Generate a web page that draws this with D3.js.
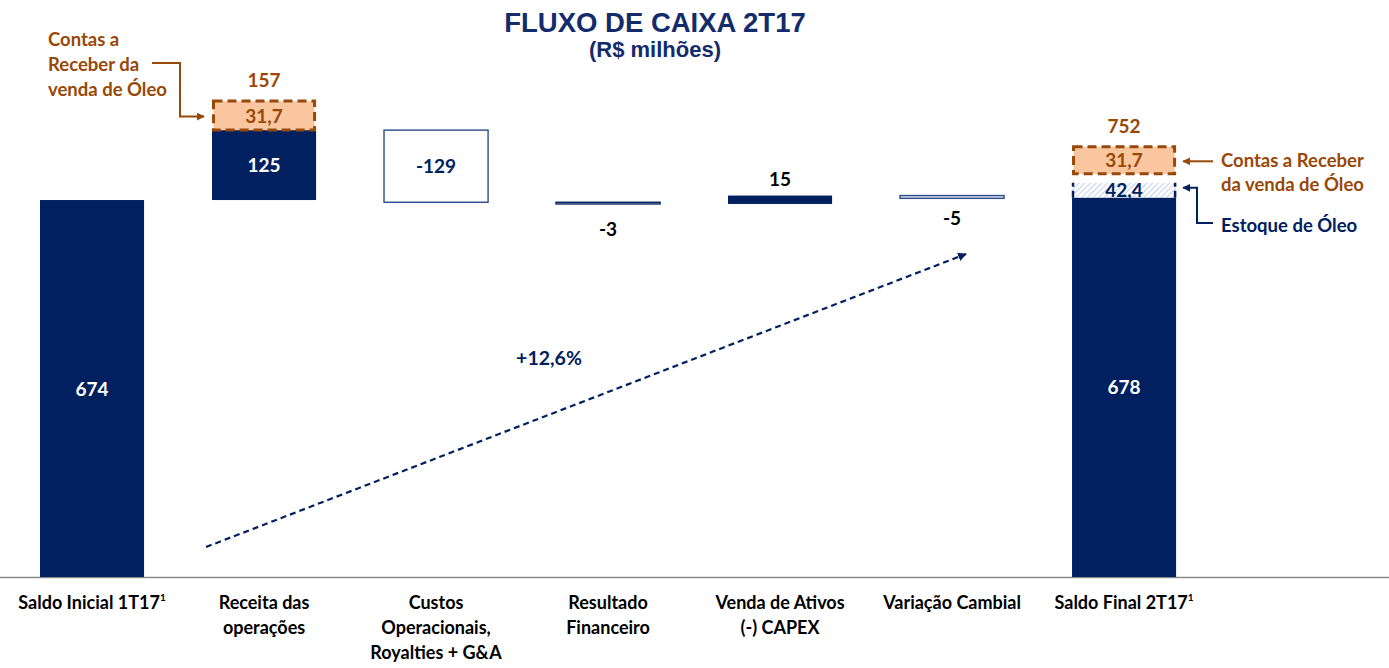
<!DOCTYPE html>
<html>
<head>
<meta charset="utf-8">
<script src="https://cdn.jsdelivr.net/npm/d3@7"></script>
<style>
  body { margin: 0; background: #fff; }
  svg { display: block; }
  .lbl { font-family: Lato, "Open Sans", sans-serif; font-weight: 700; }
  .title { font-family: "Liberation Sans", Arial, sans-serif; font-weight: 700; fill: #142b6b; }
</style>
</head>
<body>
<svg id="chart" width="1389" height="668"></svg>
<script>
// chart values (R$ milhões)
let categories = ["Saldo Inicial 1T17", "Receita das operações", "Custos Operacionais, Royalties + G&A",
                  "Resultado Financeiro", "Venda de Ativos (-) CAPEX", "Variação Cambial", "Saldo Final 2T17"];
let label_lines = [["Saldo Inicial 1T17"], ["Receita das", "operações"], ["Custos", "Operacionais,", "Royalties + G&A"],
                   ["Resultado", "Financeiro"], ["Venda de Ativos", "(-) CAPEX"], ["Variação Cambial"], ["Saldo Final 2T17"]];
let footnote = [true, false, false, false, false, false, true];
let values = [674, 125, -129, -3, 15, -5, 678];
let kinds = ["total", "delta", "delta", "delta", "delta", "delta", "total"];
let value_labels = ["674", "125", "-129", "-3", "15", "-5", "678"];
let receivables = [{cat: 1, value: 31.7, label: "31,7", total: "157"},
                   {cat: 6, value: 31.7, label: "31,7", total: "752"}];
let inventory = [{cat: 6, value: 42.4, label: "42,4"}];
let growth = "+12,6%";

let width = 1389, height = 668,
    navy = "#002060", brown = "#984807", peach = "#f9c6a0",
    baseline = 577;

function make_steps() {
  let run = 0;
  return values.map((v, i) => {
    let s;
    if (kinds[i] == "total") { s = {lo: 0, hi: v}; run = v; }
    else { let a = run, b = run + v; s = {lo: Math.min(a, b), hi: Math.max(a, b)}; run = b; }
    return Object.assign(s, {i: i, v: v});
  });
}

function make_scales() {
  return {
    x: d3.scaleBand().domain(d3.range(categories.length))
         .range([5.6, 1210.5]).paddingInner(0.395).paddingOuter(0.2),
    y: d3.scaleLinear().domain([0, 800]).range([baseline, baseline - 800 * 0.5593])
  };
}

function defs(svg) {
  let d = svg.append("defs");
  [["arr-navy", navy], ["arr-brown", brown]].forEach(([id, c]) => {
    d.append("marker").attrs({id: id, viewBox: "0 0 10 10", refX: 9, refY: 5,
        markerWidth: 4, markerHeight: 4, orient: "auto-start-reverse", markerUnits: "strokeWidth"})
      .append("path").attrs({d: "M0,0 L10,5 L0,10 z", fill: c});
  });
  d.append("pattern").attrs({id: "hatch", width: 4, height: 4, patternUnits: "userSpaceOnUse",
      patternTransform: "rotate(45)"})
    .append("line").attrs({x1: 0, y1: 0, x2: 0, y2: 4, stroke: "#a9bde0", "stroke-width": 1.4});
}

function bars(svg, steps, scales) {
  let x = scales.x, y = scales.y, bw = x.bandwidth();
  svg.append("g").selectAll("rect").data(steps).enter().append("rect")
    .attrs({
      x: d => x(d.i),
      y: d => y(d.hi),
      width: bw,
      height: d => Math.max(1.5, y(d.lo) - y(d.hi)),
      fill: d => d.v < 0 ? (d.i == 5 ? "#dfe6f2" : "#fff") : navy,
      stroke: d => d.v < 0 ? (d.i == 3 ? navy : "#2c4a8c") : "none",
      "stroke-width": 1.4
    });

  svg.append("g").selectAll("text").data(steps).enter().append("text")
    .attr("class", "lbl")
    .attrs({
      x: d => x(d.i) + bw / 2,
      y: d => {
        let h = y(d.lo) - y(d.hi);
        if (h > 40) return (y(d.lo) + y(d.hi)) / 2 + 7;
        if (d.v > 0) return y(d.hi) - 10;
        return y(d.lo) + (d.i == 3 ? 32 : 27);
      },
      "text-anchor": "middle",
      "font-size": 19,
      fill: d => {
        let h = y(d.lo) - y(d.hi);
        if (h > 40) return d.v < 0 ? navy : "#fff";
        return "#000";
      }
    })
    .text(d => value_labels[d.i]);
}

function extras(svg, steps, scales) {
  let x = scales.x, y = scales.y, bw = x.bandwidth();
  // inventory (hatched) block on top of final bar
  let inv_h = 15, gap = 9;
  let tops = {};
  inventory.forEach(d => {
    let top = y(steps[d.cat].hi), x0 = x(d.cat);
    svg.append("rect").attrs({x: x0, y: top - inv_h, width: bw, height: inv_h, fill: "url(#hatch)"});
    svg.append("path").attrs({d: `M${x0 + 1},${top} V${top - inv_h} M${x0 + bw - 1},${top} V${top - inv_h}`,
      stroke: navy, "stroke-width": 2.5, "stroke-dasharray": "7,4", fill: "none"});
    svg.append("text").attr("class", "lbl").attrs({x: x0 + bw / 2, y: top - 1,
      "text-anchor": "middle", "font-size": 19, fill: navy}).text(d.label);
    tops[d.cat] = top - inv_h - gap;
  });
  receivables.forEach(d => {
    let base = tops[d.cat] != null ? tops[d.cat] : y(steps[d.cat].hi);
    let h = d.cat == 1 ? 29 : 27;
    svg.append("rect").attrs({x: x(d.cat) + 1.5, y: base - h, width: bw - 3, height: h,
      fill: peach, stroke: brown, "stroke-width": 3, "stroke-dasharray": "9,5"});
    svg.append("text").attr("class", "lbl").attrs({x: x(d.cat) + bw / 2, y: base - h / 2 + 7,
      "text-anchor": "middle", "font-size": 19, fill: brown}).text(d.label);
    svg.append("text").attr("class", "lbl").attrs({x: x(d.cat) + bw / 2, y: base - h - 14,
      "text-anchor": "middle", "font-size": 19, fill: brown}).text(d.total);
    d.mid = base - h / 2;
  });

  // left annotation
  let la = svg.append("text").attr("class", "lbl").attrs({x: 48, "font-size": 18.5, fill: brown});
  ["Contas a", "Receber da", "venda de Óleo"].forEach((t, k) =>
    la.append("tspan").attrs({x: 48, y: 46 + 25 * k}).text(t));
  let r0 = receivables[0];
  svg.append("path").attrs({d: `M152,63 H180 V${r0.mid + 1} H${x(r0.cat) - 8}`, fill: "none",
    stroke: brown, "stroke-width": 2, "marker-end": "url(#arr-brown)"});

  // right annotations
  let r1 = receivables[1], xr = x(r1.cat) + bw;
  svg.append("path").attrs({d: `M1213,${r1.mid + 1} H${xr + 7}`, fill: "none",
    stroke: brown, "stroke-width": 2, "marker-end": "url(#arr-brown)"});
  let ra = svg.append("text").attr("class", "lbl").attrs({"font-size": 18.5, fill: brown});
  ["Contas a Receber", "da venda de Óleo"].forEach((t, k) =>
    ra.append("tspan").attrs({x: 1221, y: 167 + 24 * k}).text(t));
  let inv_mid = y(steps[6].hi) - 10;
  svg.append("path").attrs({d: `M1213,223 H1197 V${inv_mid} H${xr + 7}`, fill: "none",
    stroke: navy, "stroke-width": 2, "marker-end": "url(#arr-navy)"});
  svg.append("text").attr("class", "lbl").attrs({x: 1221, y: 232, "font-size": 18.5, fill: navy})
    .text("Estoque de Óleo");

  // growth arrow
  svg.append("line").attrs({x1: 206, y1: 547, x2: 966, y2: 254, stroke: navy,
    "stroke-width": 2.2, "stroke-dasharray": "6,4", "marker-end": "url(#arr-navy)"});
  svg.append("text").attr("class", "lbl").attrs({x: 549, y: 365, "text-anchor": "middle",
    "font-size": 19.5, fill: navy}).text(growth);
}

function axis(svg, scales) {
  let x = scales.x, bw = x.bandwidth();
  svg.append("line").attrs({x1: 0, x2: width, y1: baseline + 0.5, y2: baseline + 0.5,
    stroke: "#8c8c8c", "stroke-width": 1.3});
  let g = svg.append("g").selectAll("text").data(label_lines).enter().append("text")
    .attr("class", "lbl")
    .attrs({"text-anchor": "middle", "font-size": 18, fill: "#000"});
  g.each(function(lines, i) {
    let t = d3.select(this), cx = x(i) + bw / 2;
    lines.forEach((l, k) => {
      t.append("tspan").attrs({x: cx, y: 609 + 25 * k}).text(l);
    });
    if (footnote[i]) t.append("tspan").attrs({"font-size": 10, dy: -8}).text("1");
  });
}

function title(svg) {
  svg.append("text").attr("class", "title").attrs({x: 655, y: 32, "text-anchor": "middle", "font-size": 27.5})
    .text("FLUXO DE CAIXA 2T17");
  svg.append("text").attr("class", "title").attrs({x: 655, y: 57, "text-anchor": "middle", "font-size": 22})
    .text("(R$ milhões)");
}

// small helper since d3-selection-multi isn't bundled
d3.selection.prototype.attrs = function(o) {
  for (let k in o) this.attr(k, o[k]);
  return this;
};

let svg = d3.select("#chart");
let scales = make_scales(), steps = make_steps();
defs(svg);
title(svg);
axis(svg, scales);
bars(svg, steps, scales);
extras(svg, steps, scales);
</script>
</body>
</html>
